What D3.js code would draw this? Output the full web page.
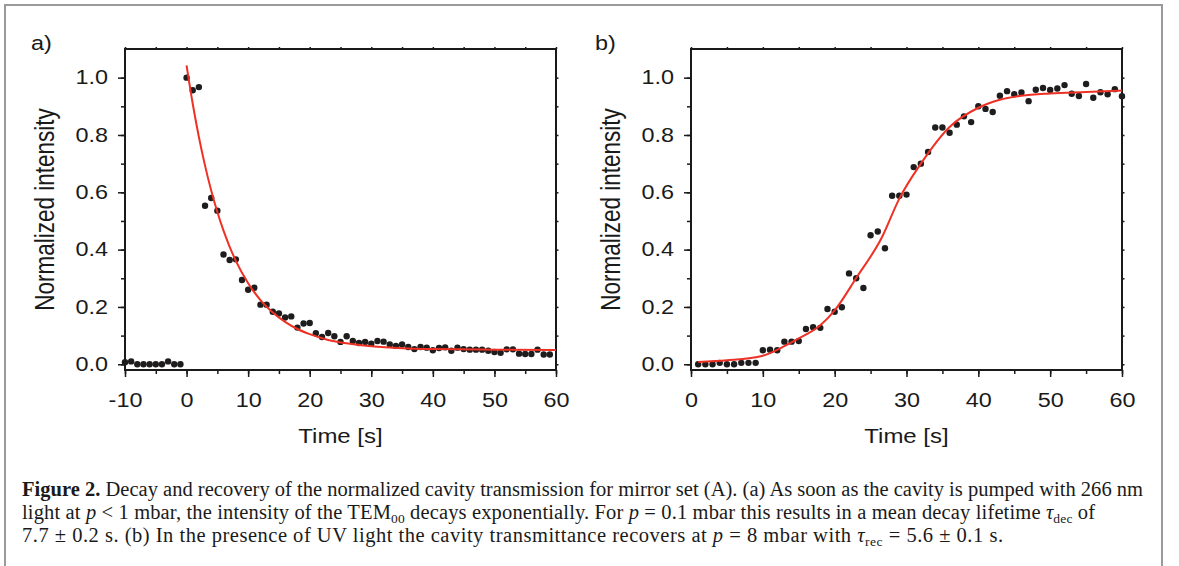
<!DOCTYPE html>
<html>
<head>
<meta charset="utf-8">
<script src="https://cdn.jsdelivr.net/npm/d3@7/dist/d3.min.js"></script>
<style>
    body { margin: 0; background: #fff; }
    svg { display: block; }
</style>
</head>
<body>
<div id="figure"></div>
<script>
// Panel a) - decay of the cavity transmission
const decayTime = [-10, -9, -8, -7, -6, -5, -4, -3, -2, -1,
    0, 1, 2, 3, 4, 5, 6, 7, 8, 9, 10, 11, 12, 13, 14, 15, 16, 17, 18, 19,
    20, 21, 22, 23, 24, 25, 26, 27, 28, 29, 30, 31, 32, 33, 34, 35, 36, 37, 38, 39,
    40, 41, 42, 43, 44, 45, 46, 47, 48, 49, 50, 51, 52, 53, 54, 55, 56, 57, 58, 59];
const decayIntensity = [0.007, 0.01, 0, 0, 0, 0, 0, 0.01, 0, 0,
    1.0, 0.956, 0.967, 0.553, 0.580, 0.536, 0.383, 0.364, 0.366, 0.294,
    0.260, 0.267, 0.208, 0.208, 0.183, 0.177, 0.163, 0.167, 0.128, 0.142,
    0.144, 0.108, 0.095, 0.109, 0.098, 0.078, 0.098, 0.081, 0.074, 0.078,
    0.072, 0.081, 0.079, 0.069, 0.064, 0.069, 0.060, 0.053, 0.060, 0.058,
    0.049, 0.057, 0.059, 0.047, 0.058, 0.053, 0.051, 0.051, 0.051, 0.047,
    0.043, 0.040, 0.052, 0.052, 0.037, 0.036, 0.036, 0.051, 0.034, 0.034];
// fitted exponential
const decayFitTime = [0, 1, 2, 3, 4, 5, 6, 7, 8, 10, 12, 14, 16, 18, 20, 23, 26, 30, 35, 40, 50, 60];
const decayFitValue = [1.043, 0.909, 0.793, 0.693, 0.606, 0.531, 0.466, 0.410, 0.361, 0.283, 0.224,
    0.181, 0.148, 0.123, 0.105, 0.085, 0.073, 0.063, 0.056, 0.053, 0.051, 0.050];

// Panel b) - recovery under UV light
const recoveryTime = [1, 2, 3, 4, 5, 6, 7, 8, 9, 10, 11, 12, 13, 14, 15, 16, 17, 18, 19, 20,
    21, 22, 23, 24, 25, 26, 27, 28, 29, 30, 31, 32, 33, 34, 35, 36, 37, 38, 39, 40,
    41, 42, 43, 44, 45, 46, 47, 48, 49, 50, 51, 52, 53, 54, 55, 56, 57, 58, 59, 60];
const recoveryIntensity = [0, 0, 0, 0.005, 0, 0, 0.005, 0.005, 0.005, 0.049,
    0.051, 0.049, 0.079, 0.079, 0.081, 0.123, 0.129, 0.127, 0.193, 0.183,
    0.199, 0.317, 0.300, 0.266, 0.450, 0.463, 0.405, 0.588, 0.588, 0.592,
    0.688, 0.700, 0.741, 0.826, 0.826, 0.808, 0.836, 0.865, 0.845, 0.900,
    0.891, 0.880, 0.937, 0.953, 0.942, 0.948, 0.918, 0.958, 0.964, 0.957,
    0.962, 0.974, 0.944, 0.936, 0.978, 0.930, 0.949, 0.942, 0.960, 0.935];
const recoveryFitTime = [1, 5, 10, 13, 15, 18, 20, 23, 26.6, 29, 32, 36, 40, 43, 46, 50, 55, 60];
const recoveryFitValue = [0.008, 0.014, 0.030, 0.063, 0.090, 0.136, 0.188, 0.301, 0.444, 0.578,
    0.700, 0.828, 0.895, 0.923, 0.937, 0.945, 0.950, 0.955];

// ticks
const yTicks = [0, 0.2, 0.4, 0.6, 0.8, 1.0];
const decayXTicks = [-10, 0, 10, 20, 30, 40, 50, 60];
const recoveryXTicks = [0, 10, 20, 30, 40, 50, 60];

const width = 1179, height = 566;
const plotTop = 49, plotBottom = 370;
const textStretch = 1.2;   // the original figure is a bit wider than tall
const sans = "'Liberation Sans', Arial, sans-serif";
const serif = "'Liberation Serif', 'Times New Roman', serif";

const svg = d3.select("#figure")
    .append("svg")
    .attr("width", width)
    .attr("height", height);

// grey frame around figure + caption
svg.append("rect")
    .attr("x", 5)
    .attr("y", 5)
    .attr("width", 1157)
    .attr("height", 620)
    .attr("fill", "none")
    .attr("stroke", "#9a9a9a")
    .attr("stroke-width", 2);

function drawPanel(opt) {
    const x = d3.scaleLinear().domain(opt.xDomain).range([opt.left, opt.right]);
    const y = d3.scaleLinear().domain([-0.02, 1.1]).range([plotBottom, plotTop]);
    const g = svg.append("g");

    // minor ticks
    g.append("g")
        .attr("transform", `translate(${opt.left},0)`)
        .call(d3.axisLeft(y).tickValues(d3.range(0, 1.05, 0.1)).tickSize(4).tickFormat(""));
    g.append("g")
        .attr("transform", `translate(0,${plotBottom})`)
        .call(d3.axisBottom(x).tickValues(d3.range(opt.xDomain[0], opt.xDomain[1] + 1, 5)).tickSize(4).tickFormat(""));
    g.append("g")
        .attr("transform", `translate(${opt.right},0)`)
        .call(d3.axisRight(y).tickValues(d3.range(0, 1.05, 0.1)).tickSize(2.5).tickFormat(""));
    g.append("g")
        .attr("transform", `translate(0,${plotTop})`)
        .call(d3.axisTop(x).tickValues(d3.range(opt.xDomain[0], opt.xDomain[1] + 1, 5)).tickSize(2).tickFormat(""));

    // major ticks + labels
    const yAxis = g.append("g")
        .attr("class", "y-axis")
        .attr("transform", `translate(${opt.left},0)`)
        .call(d3.axisLeft(y).tickValues(yTicks).tickSize(7).tickPadding(4).tickFormat(d3.format(".1f")));
    yAxis.selectAll("text")
        .attr("x", -17 / textStretch)
        .attr("transform", `scale(${textStretch},1)`);

    const xAxis = g.append("g")
        .attr("class", "x-axis")
        .attr("transform", `translate(0,${plotBottom})`)
        .call(d3.axisBottom(x).tickValues(opt.xTicks).tickSize(7).tickPadding(16).tickFormat(d => String(d)));
    xAxis.selectAll("text")
        .attr("transform", `scale(${textStretch},1)`);

    g.selectAll(".domain").remove();
    g.selectAll(".tick line").attr("stroke", "#1a1a1a").attr("stroke-width", 1.5);
    g.selectAll(".tick text")
        .attr("font-family", sans)
        .attr("font-size", "19.5px")
        .attr("fill", "#1a1a1a");

    // plot frame
    g.append("rect")
        .attr("x", opt.left)
        .attr("y", plotTop)
        .attr("width", opt.right - opt.left)
        .attr("height", plotBottom - plotTop)
        .attr("fill", "none")
        .attr("stroke", "#1a1a1a")
        .attr("stroke-width", 2);

    // data points
    g.append("g")
        .selectAll("circle")
        .data(opt.t.map((t, i) => ({ t: t, v: opt.v[i] })))
        .enter()
        .append("circle")
        .attr("cx", d => x(d.t))
        .attr("cy", d => y(d.v))
        .attr("r", 3.2)
        .attr("fill", "#1e1c1d");

    // fit curve
    const line = d3.line()
        .x(d => x(d.t))
        .y(d => y(d.v))
        .curve(d3.curveMonotoneX);
    g.append("path")
        .datum(opt.fitT.map((t, i) => ({ t: t, v: opt.fitV[i] })))
        .attr("d", line)
        .attr("fill", "none")
        .attr("stroke", "#ee3124")
        .attr("stroke-width", 2);

    // axis titles
    const mid = (opt.left + opt.right) / 2;
    g.append("text")
        .attr("transform", `translate(${mid},443) scale(${textStretch},1)`)
        .attr("text-anchor", "middle")
        .attr("font-family", sans)
        .attr("font-size", "20px")
        .attr("fill", "#1a1a1a")
        .text("Time [s]");

    g.append("text")
        .attr("transform", `translate(${opt.left - 71},${(plotTop + plotBottom) / 2}) scale(${textStretch},1) rotate(-90)`)
        .attr("text-anchor", "middle")
        .attr("font-family", sans)
        .attr("font-size", "22.5px")
        .attr("fill", "#1a1a1a")
        .text("Normalized intensity");

    // panel letter
    g.append("text")
        .attr("transform", `translate(${opt.labelX},50) scale(${textStretch},1)`)
        .attr("font-family", sans)
        .attr("font-size", "19.5px")
        .attr("fill", "#1a1a1a")
        .text(opt.label);
}

drawPanel({
    label: "a)", labelX: 31, left: 125, right: 556, xDomain: [-10, 60], xTicks: decayXTicks,
    t: decayTime, v: decayIntensity, fitT: decayFitTime, fitV: decayFitValue
});
drawPanel({
    label: "b)", labelX: 595, left: 691, right: 1122, xDomain: [0, 60], xTicks: recoveryXTicks,
    t: recoveryTime, v: recoveryIntensity, fitT: recoveryFitTime, fitV: recoveryFitValue
});

// caption, three lines with italic / subscript pieces
const captionLines = [
    { y: 496, len: 1121, parts: [
        { s: "Figure 2.", bold: true },
        { s: " Decay and recovery of the normalized cavity transmission for mirror set (A). (a) As soon as the cavity is pumped with 266 nm" }
    ] },
    { y: 519, len: 1073, parts: [
        { s: "light at " }, { s: "p", it: true }, { s: " < 1 mbar, the intensity of the TEM" }, { s: "00", sub: true },
        { s: " decays exponentially. For " }, { s: "p", it: true }, { s: " = 0.1 mbar this results in a mean decay lifetime " },
        { s: "τ", it: true }, { s: "dec", sub: true }, { s: " of" }
    ] },
    { y: 542, len: 981, parts: [
        { s: "7.7 ± 0.2 s. (b) In the presence of UV light the cavity transmittance recovers at " }, { s: "p", it: true },
        { s: " = 8 mbar with " }, { s: "τ", it: true }, { s: "rec", sub: true }, { s: " = 5.6 ± 0.1 s." }
    ] }
];

captionLines.forEach(function(ln) {
    const t = svg.append("text")
        .attr("x", 22)
        .attr("y", ln.y)
        .attr("font-family", serif)
        .attr("font-size", "20.5px")
        .attr("fill", "#1a1a1a")
        .attr("textLength", ln.len)
        .attr("lengthAdjust", "spacing");
    let shifted = false;
    ln.parts.forEach(function(p) {
        const ts = t.append("tspan").text(p.s);
        if (p.bold) ts.attr("font-weight", "bold");
        if (p.it) ts.attr("font-style", "italic");
        if (p.sub) {
            ts.attr("font-size", "13.5px").attr("dy", 4);
            shifted = true;
        } else if (shifted) {
            ts.attr("dy", -4);
            shifted = false;
        }
    });
});
</script>
</body>
</html>
